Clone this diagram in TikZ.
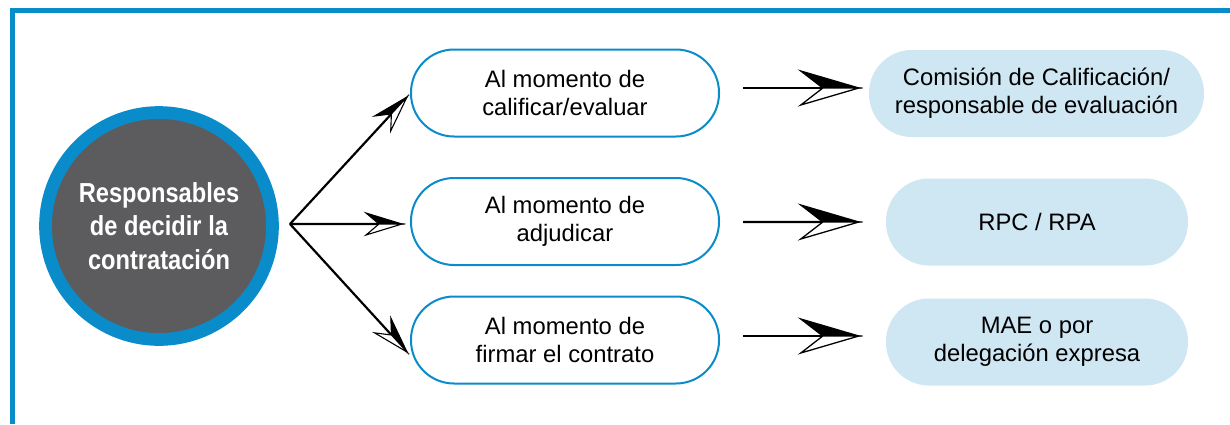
\documentclass[tikz,border=0pt]{standalone}
\usepackage{fontspec}
\setmainfont{Liberation Sans}
\newfontfamily\circfont{Liberation Sans}[FakeStretch=0.86]
\usetikzlibrary{arrows.meta}
\definecolor{frameblue}{HTML}{0A8CCA}
\definecolor{lightblue}{HTML}{CFE6F3}
\definecolor{darkgray}{HTML}{5C5C5E}
\pgfdeclarearrow{
  name = TTbig,
  setup code = {
    \pgfarrowssettipend{0pt}
    \pgfarrowssetlineend{-34bp}
    \pgfarrowssetbackend{-58bp}
  },
  drawing code = {
    \pgfsetdash{}{0pt}
    \pgfsetlinewidth{1.3bp}
    \pgfsetmiterjoin
    \pgfsetstrokecolor{black}
    \pgfpathmoveto{\pgfqpoint{0bp}{0bp}}
    \pgfpathlineto{\pgfqpoint{-58bp}{17bp}}
    \pgfpathlineto{\pgfqpoint{-36bp}{0bp}}
    \pgfpathclose
    \pgfsetfillcolor{black}
    \pgfusepathqfillstroke
    \pgfpathmoveto{\pgfqpoint{0bp}{0bp}}
    \pgfpathlineto{\pgfqpoint{-36bp}{0bp}}
    \pgfpathlineto{\pgfqpoint{-58bp}{-17bp}}
    \pgfpathclose
    \pgfsetfillcolor{white}
    \pgfusepathqfillstroke
  }
}
\pgfdeclarearrow{
  name = TTsmall,
  setup code = {
    \pgfarrowssettipend{0pt}
    \pgfarrowssetlineend{-21bp}
    \pgfarrowssetbackend{-36bp}
  },
  drawing code = {
    \pgfsetdash{}{0pt}
    \pgfsetlinewidth{1.1bp}
    \pgfsetmiterjoin
    \pgfsetstrokecolor{black}
    \pgfpathmoveto{\pgfqpoint{0bp}{0bp}}
    \pgfpathlineto{\pgfqpoint{-36bp}{11bp}}
    \pgfpathlineto{\pgfqpoint{-23bp}{0bp}}
    \pgfpathclose
    \pgfsetfillcolor{black}
    \pgfusepathqfillstroke
    \pgfpathmoveto{\pgfqpoint{0bp}{0bp}}
    \pgfpathlineto{\pgfqpoint{-23bp}{0bp}}
    \pgfpathlineto{\pgfqpoint{-36bp}{-11bp}}
    \pgfpathclose
    \pgfsetfillcolor{white}
    \pgfusepathqfillstroke
  }
}
\tikzset{
  midbox/.style={draw=frameblue, line width=2bp, fill=white, rectangle,
    rounded corners=43bp, minimum width=308bp, minimum height=87bp,
    inner sep=0pt, align=center, font=\fontsize{23.8bp}{28bp}\selectfont},
  resbox/.style={draw=none, fill=lightblue, rectangle,
    rounded corners=43bp, minimum height=87bp,
    inner sep=0pt, align=center, font=\fontsize{23.8bp}{28bp}\selectfont},
  smallarrow/.style={line width=2.2bp, -TTsmall},
  bigarrow/.style={line width=2.2bp, -TTbig},
}
\begin{document}
\begin{tikzpicture}[x=1bp,y=-1bp]
\useasboundingbox (0,0) rectangle (1230,424);
% frame
\draw[frameblue, line width=5bp] (12.5,424) -- (12.5,10) -- (1230,10);
% circle
\node[circle, draw=frameblue, line width=12.7bp, fill=darkgray,
  minimum size=227bp, inner sep=0pt, align=center, text=white,
  font=\circfont\bfseries\fontsize{27.5bp}{33.5bp}\selectfont] (c) at (159,226)
  {Responsables\\de decidir la\\contratación};
\coordinate (src) at (290,224);
% middle boxes
\node[midbox] (b1) at (565,93) {Al momento de\\calificar/evaluar};
\node[midbox] (b2) at (565,221.5) {Al momento de\\adjudicar};
\node[midbox] (b3) at (565,340) {Al momento de\\firmar el contrato};
% result boxes
\node[resbox, minimum width=335bp] (a1) at (1036.5,93.5) {Comisión de Calificación/\\responsable de evaluación};
\node[resbox, minimum width=302bp] (a2) at (1037,222) {RPC / RPA};
\node[resbox, minimum width=302bp] (a3) at (1037,342) {MAE o por\\delegación expresa};
% arrows from circle
\draw[smallarrow] (src) -- ([shift={(-3,4)}]b1.west);
\draw[smallarrow] (src) -- ([shift={(-8,2.5)}]b2.west);
\draw[smallarrow] (src) -- ([shift={(-3,12)}]b3.west);
% arrows to results
\draw[bigarrow] ([shift={(23,-5)}]b1.east) -- ([shift={(-10,-5.5)}]a1.west);
\draw[bigarrow] ([shift={(23,0.5)}]b2.east) -- ([shift={(-27,0)}]a2.west);
\draw[bigarrow] ([shift={(23,-4)}]b3.east) -- ([shift={(-27,-6)}]a3.west);
\end{tikzpicture}
\end{document}
